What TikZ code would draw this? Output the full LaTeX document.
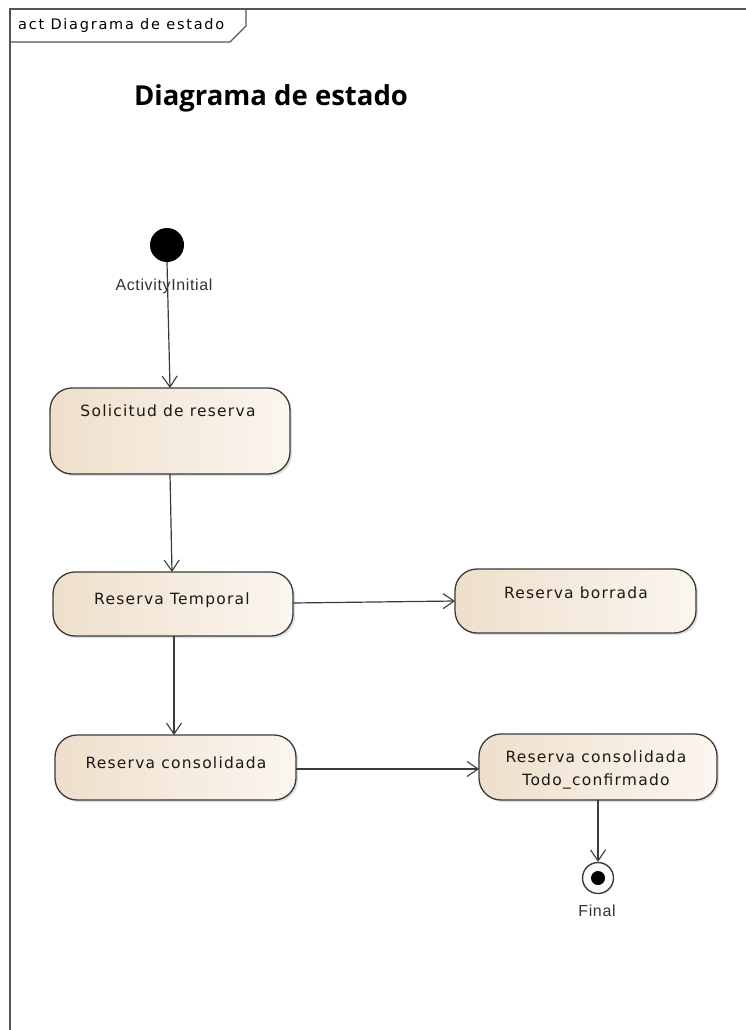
\documentclass[tikz,border=0pt]{standalone}
\usepackage{fontspec}
\setmainfont{DejaVu Sans}
\newfontfamily\statefont[LetterSpace=8]{DejaVu Sans}
\newfontfamily\tabfont[LetterSpace=12]{DejaVu Sans}
\newfontfamily\titlefont{Open Sans}
\newfontfamily\labelfont[LetterSpace=4]{Liberation Sans}
\usetikzlibrary{arrows.meta,shadows}
\definecolor{frameline}{HTML}{555555}
\definecolor{edgeline}{HTML}{3A3A3A}
\definecolor{stateleft}{HTML}{EEDFCB}
\definecolor{stateright}{HTML}{FBF6F0}
\tikzset{
  statebox/.style={draw=edgeline, line width=1.3pt, rounded corners=22pt,
    left color=stateleft, right color=stateright,
    drop shadow={shadow xshift=2pt, shadow yshift=-2pt, opacity=0.25}},
  statetext/.style={font=\statefont\fontsize{15.5}{23}\selectfont, inner sep=0pt, align=center, text=black!90},
  flow/.style={draw=edgeline, line width=1.2pt,
    -{Straight Barb[length=11pt,width=15pt,line width=1.1pt]}},
  smalllabel/.style={font=\labelfont\fontsize{16}{18}\selectfont, text=black!80, inner sep=0pt},
}
\begin{document}
\begin{tikzpicture}[x=1pt,y=-1pt]
\useasboundingbox (0,0) rectangle (746,1030);
% diagram frame with its name tab
\draw[frameline, line width=1.4pt] (10,1030) -- (10,9) -- (746,9);
\draw[frameline, line width=1.2pt] (10,42) -- (230,42) -- (246,26) -- (246,9);
\node[anchor=west, inner sep=0pt, font=\tabfont\fontsize{14.5}{16}\selectfont] (tab) at (18,26) {act Diagrama de estado};
% heading
\node[font=\titlefont\bfseries\fontsize{27.5}{32}\selectfont, inner sep=0pt] (title) at (271,98) {Diagrama de estado};
% initial and final pseudo states
\node[circle, fill=black, minimum size=34pt, inner sep=0pt] (init) at (167,245) {};
\node[smalllabel] (initlbl) at (164,286) {ActivityInitial};
\node[circle, draw=edgeline, line width=1.4pt, fill=white!92!stateleft, minimum size=31pt, inner sep=0pt] (final) at (598,878) {};
\fill[black] (final.center) circle (7pt);
\node[smalllabel] (finallbl) at (597,911) {Final};
% states
\path[statebox] (50,388) rectangle (290,474);
\node[statetext] (s1t) at (168,411) {Solicitud de reserva};
\coordinate (s1top) at (170,388);
\coordinate (s1bot) at (170,474);
\path[statebox] (53,572) rectangle (293,636);
\node[statetext] (s2t) at (172,600) {Reserva Temporal};
\coordinate (s2top) at (172,572);
\coordinate (s2bot) at (174,636);
\coordinate (s2right) at (293,603);
\path[statebox] (455,569) rectangle (696,633);
\node[statetext] (s3t) at (576,593) {Reserva borrada};
\coordinate (s3left) at (455,601);
\path[statebox] (55,735) rectangle (296,800);
\node[statetext] (s4t) at (176,763) {Reserva consolidada};
\coordinate (s4top) at (174,735);
\coordinate (s4right) at (296,769);
\path[statebox] (479,734) rectangle (717,800);
\node[statetext] (s5t) at (596,770) {Reserva consolidada\\Todo\_confirmado};
\coordinate (s5left) at (479,769);
\coordinate (s5bot) at (598,800);
% transitions
\draw[flow] (init.south) -- (s1top);
\draw[flow] (s1bot) -- (s2top);
\draw[flow] (s2right) -- (s3left);
\draw[flow] (s2bot) -- (s4top);
\draw[flow] (s4right) -- (s5left);
\draw[flow] (s5bot) -- (final.north);
\end{tikzpicture}
\end{document}
